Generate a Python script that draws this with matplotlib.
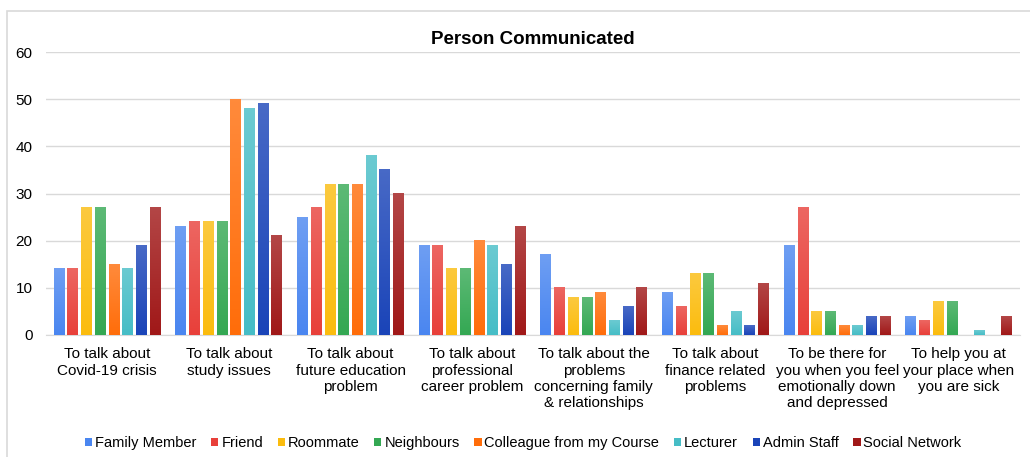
import numpy as np
import matplotlib.pyplot as plt
from matplotlib.colors import to_rgb
from matplotlib.patches import Rectangle

plt.rcParams['font.family'] = ['Liberation Sans', 'DejaVu Sans']

categories = [
    "To talk about\nCovid-19 crisis",
    "To talk about\nstudy issues",
    "To talk about\nfuture education\nproblem",
    "To talk about\nprofessional\ncareer problem",
    "To talk about the\nproblems\nconcerning family\n& relationships",
    "To talk about\nfinance related\nproblems",
    "To be there for\nyou when you feel\nemotionally down\nand depressed",
    "To help you at\nyour place when\nyou are sick",
]
series = ["Family Member", "Friend", "Roommate", "Neighbours",
          "Colleague from my Course", "Lecturer", "Admin Staff", "Social Network"]
family_member = [14, 23, 25, 19, 17, 9, 19, 4]
friend = [14, 24, 27, 19, 10, 6, 27, 3]
roommate = [27, 24, 32, 14, 8, 13, 5, 7]
neighbours = [27, 24, 32, 14, 8, 13, 5, 7]
colleague = [15, 50, 32, 20, 9, 2, 2, 0]
lecturer = [14, 48, 38, 19, 3, 5, 2, 1]
admin_staff = [19, 49, 35, 15, 6, 2, 4, 0]
social_network = [27, 21, 30, 23, 10, 11, 4, 4]
values = [family_member, friend, roommate, neighbours,
          colleague, lecturer, admin_staff, social_network]
colors = ["#4a86f0", "#e8403a", "#fbbc0e", "#34a853",
          "#ff6d0a", "#46bdc6", "#1a44b8", "#a01818"]

fig = plt.figure(figsize=(10.3, 4.57), dpi=100)
ax = fig.add_axes([0.045, 0.267, 0.945, 0.619])

# light outer frame
fig.patches.append(Rectangle((0.007, -0.05), 1.1, 1.025, transform=fig.transFigure,
                             fill=False, edgecolor="#d9d9d9", linewidth=1.2))

n = len(series)
slot = 0.9 / n
x = np.arange(len(categories))
for i, (name, vals, col) in enumerate(zip(series, values, colors)):
    pos = x - 0.45 + slot * (i + 0.5)
    bars = ax.bar(pos, vals, width=slot * 0.8, color=col, label=name, zorder=2)
    # vertical shading: lighter at the top of each bar
    base = np.array(to_rgb(col))
    grad = np.linspace(0, 1, 64)[:, None]
    img = base * (1 - 0.2 * grad[..., None]) + 0.2 * grad[..., None]
    for b in bars:
        h = b.get_height()
        if h <= 0:
            continue
        x0 = b.get_x()
        ax.imshow(img, extent=(x0, x0 + b.get_width(), 0, h), origin="lower",
                  aspect="auto", zorder=3, interpolation="bilinear")

ax.set_xlim(-0.5, len(categories) - 0.5)
ax.set_ylim(0, 60)
ax.set_yticks(range(0, 61, 10))
ax.set_xticks(x)
ax.set_xticklabels(categories, fontsize=11, linespacing=1.2)
ax.tick_params(axis="both", length=0)
ax.tick_params(axis="y", pad=10, labelsize=11)
ax.tick_params(axis="x", pad=9)
ax.grid(axis="y", color="#d9d9d9", linewidth=1, zorder=0)
for s in ["top", "right", "left"]:
    ax.spines[s].set_visible(False)
ax.spines["bottom"].set_color("#d9d9d9")
ax.set_title("Person Communicated", fontsize=13.5, fontweight="bold", pad=6)

handles, labels = ax.get_legend_handles_labels()
fig.legend(handles, labels, loc="center", bbox_to_anchor=(0.508, 0.03), ncol=8,
           frameon=False, fontsize=10.5, handlelength=0.5, handleheight=0.5,
           handletextpad=0.2, columnspacing=1.0)

fig.savefig("out.png", dpi=100)
